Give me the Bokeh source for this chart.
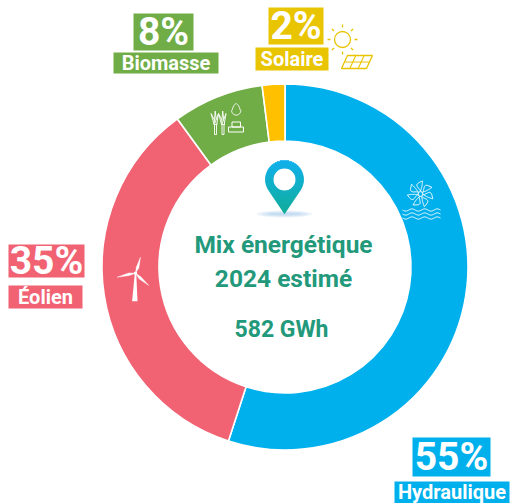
import numpy as np
from bokeh.plotting import figure
from bokeh.models import ColumnDataSource
from bokeh.core.properties import value
from bokeh.embed import file_html
from bokeh.resources import INLINE

categories = ["Hydraulique", "Éolien", "Biomasse", "Solaire"]
shares = [55, 35, 8, 2]
ring_colors = ["#00B0EC", "#F16273", "#70AD47", "#FFC000"]
label_colors = ["#00B0EC", "#F16273", "#70AD47", "#E9C400"]
center_lines = ["Mix énergétique", "2024 estimé", "582 GWh"]

W, H = 510, 503
TEAL = "#23997B"

p = figure(width=W, height=H, x_range=(0, W), y_range=(0, H), output_backend="svg",
           toolbar_location=None, min_border=0, outline_line_color=None)
p.axis.visible = False
p.grid.visible = False

def Y(py):
    return H - np.asarray(py, dtype=float)

# ring -------------------------------------------------------------------
cx, cy, r_out, r_in = 284.5, 266.5, 183, 126
fractions = np.array(shares) / sum(shares)
cum = np.concatenate([[0], np.cumsum(fractions)])
src = ColumnDataSource(dict(
    start=np.pi / 2 - 2 * np.pi * cum[:-1],
    end=np.pi / 2 - 2 * np.pi * cum[1:],
    color=ring_colors, name=categories,
))
p.annular_wedge(x=cx, y=float(Y(cy)), inner_radius=r_in, outer_radius=r_out,
                start_angle="start", end_angle="end", direction="clock",
                fill_color="color", line_color="white", line_width=1.6, source=src)

# labels -----------------------------------------------------------------
pct_boxes = [(412, 490, 437, 476), (8, 84, 244, 277), (133, 193, 13, 50), (268, 323, 7, 44)]
name_boxes = [(394, 509, 481, 503), (8, 82, 285, 308), (113, 218, 52, 73), (255, 328, 47, 70)]
for i, cat in enumerate(categories):
    for box, txt, size in ((pct_boxes[i], f"{shares[i]}%", "39px"), (name_boxes[i], cat, "20px")):
        l, r, t, b = box
        p.quad(left=l, right=r, top=float(Y(t)), bottom=float(Y(b)), fill_color=label_colors[i], line_color=None)
        p.text(x=[(l + r) / 2], y=[float(Y((t + b) / 2 - 0.5))], text=[txt], text_color="white",
               text_font=value("Roboto"), text_font_style="bold", text_font_size=size,
               text_align="center", text_baseline="middle")

# centre text ------------------------------------------------------------
for txt, px, py, size in zip(center_lines, (283, 283, 281), (244, 278, 329), ("24.5px", "24.5px", "23px")):
    p.text(x=[px], y=[float(Y(py))], text=[txt], text_color=TEAL, text_font=value("Roboto"),
           text_font_style="bold", text_font_size=size, text_align="center", text_baseline="middle")

# map pin ----------------------------------------------------------------
for w, h, a in ((56, 7, .18), (46, 5, .25), (34, 3, .3)):
    p.ellipse(x=284, y=float(Y(213.5)), width=w, height=h, fill_color="#9CC4E8", fill_alpha=a, line_color=None)
pin_top, pin_tip, pin_cy, pin_r = 160, 213, 179, 19
c1, c2 = np.array([8, 174, 236]), np.array([6, 170, 150])
d_t = pin_tip - pin_cy
tang_y = pin_r * pin_r / d_t
for py in np.arange(pin_top, pin_tip, 1.0):
    yy = py + .5 - pin_cy
    if yy <= tang_y:
        hw = np.sqrt(max(pin_r ** 2 - yy ** 2, 0))
    else:
        hw = np.sqrt(pin_r ** 2 - tang_y ** 2) * (d_t - yy) / (d_t - tang_y)
    t = (py - pin_top) / (pin_tip - pin_top)
    col = c1 + (c2 - c1) * t
    p.quad(left=284 - hw, right=284 + hw, top=float(Y(py)), bottom=float(Y(py + 1)),
           fill_color="#%02x%02x%02x" % tuple(int(v) for v in col),
           line_color="#%02x%02x%02x" % tuple(int(v) for v in col), line_width=0.6)
p.circle(x=284, y=float(Y(pin_cy)), radius=11, fill_color="white", line_color=None)

# wind turbine -----------------------------------------------------------
hub = (135, 272.7)
for tip in ((140, 256.7), (116.7, 276.7), (148.3, 285)):
    dx, dy = tip[0] - hub[0], tip[1] - hub[1]
    n = np.hypot(dx, dy); nx, ny = -dy / n, dx / n
    mx, my = hub[0] + dx * .35, hub[1] + dy * .35
    p.patch(x=[hub[0], mx + nx * 1.7, tip[0], mx - nx * 1.0],
            y=list(Y([hub[1], my + ny * 1.7, tip[1], my - ny * 1.0])), fill_color="white", line_color="white", line_width=.4)
p.patch(x=[134.2, 135.8, 137, 131.6], y=list(Y([274, 274, 300.7, 300.7])), fill_color="white", line_color=None)
p.circle(x=hub[0], y=float(Y(hub[1])), radius=1.8, fill_color="white", line_color=None)

# hydro icon -------------------------------------------------------------
hx, hy = 420, 193.5
for k in range(7):
    a = np.pi / 2 + k * 2 * np.pi / 7
    s = np.linspace(0, 1, 24)
    u = 2.8 + 10.2 * s
    lead = 4.4 * np.sin(np.pi * s ** 1.5)
    trail = 0.9 * np.sin(np.pi * s)
    bend = 2.0 * s ** 2
    xs = np.concatenate([u, u[::-1]])
    ys = np.concatenate([lead - bend, (-trail - bend)[::-1]])
    xs = np.append(xs, xs[0]); ys = np.append(ys, ys[0])
    px = hx + xs * np.cos(a) - ys * np.sin(a)
    py = hy - (xs * np.sin(a) + ys * np.cos(a))
    p.line(x=px, y=Y(py), line_color="white", line_width=1)
p.circle(x=hx, y=float(Y(hy)), radius=2.4, fill_color=None, line_color="white", line_width=1)
wx = np.linspace(402, 440, 80)
for base in (209.5, 213.5, 217.5):
    p.line(x=wx, y=Y(base + 1.1 * np.sin((wx - 402) / 38 * 3 * 2 * np.pi)), line_color="white", line_width=1)

# biomass icon -----------------------------------------------------------
for sx in (215, 222.5):
    p.quad(left=sx - 1, right=sx + 1, top=float(Y(120)), bottom=float(Y(134)), fill_color=None, line_color="white", line_width=.9)
    for tipx, tipy, w in ((sx - 4.5, 113, 1.4), (sx - .3, 110.5, 1.4), (sx + 3, 113, 1.2)):
        p.patch(x=[sx - w, tipx, sx + w], y=list(Y([124, tipy, 124])), fill_color="#70AD47", line_color="white", line_width=.9)
th = np.linspace(0, 2 * np.pi, 60)
dxs = 235.7 + 4.6 * np.sin(th) * np.where(np.cos(th) > 0, np.sin(th / 2) ** 0.4, 1)
dys = 110 - np.where(np.cos(th) > 0, 7 * np.cos(th), 4.6 * np.cos(th))
p.line(x=dxs, y=Y(dys), line_color="white", line_width=1)
for l, r, t, b in ((231.5, 240, 121.5, 126.5), (228, 243, 126.5, 131.5)):
    p.quad(left=l, right=r, top=float(Y(t)), bottom=float(Y(b)), fill_color=None, line_color="white", line_width=1)

# solar icon -------------------------------------------------------------
sc = (342, 39)
p.circle(x=sc[0], y=float(Y(sc[1])), radius=8, fill_color=None, line_color="#E9C400", line_width=1.3)
for k in range(8):
    a = k * np.pi / 4
    p.line(x=[sc[0] + 12 * np.cos(a), sc[0] + 15 * np.cos(a)],
           y=Y([sc[1] + 12 * np.sin(a), sc[1] + 15 * np.sin(a)]), line_color="#E9C400", line_width=1.3)
TL, TR, BR, BL = (347, 55), (372, 55), (366, 68), (341, 68)
p.patch(x=[TL[0], TR[0], BR[0], BL[0]], y=list(Y([TL[1], TR[1], BR[1], BL[1]])), fill_color=None,
        line_color="#E9C400", line_width=1.3)
for f in (1 / 3, 2 / 3):
    p.line(x=[TL[0] + (TR[0] - TL[0]) * f, BL[0] + (BR[0] - BL[0]) * f], y=Y([55, 68]), line_color="#E9C400", line_width=1.1)
p.line(x=[344, 369], y=Y([61.5, 61.5]), line_color="#E9C400", line_width=1.1)

open("out.html", "w").write(file_html(p, INLINE))
